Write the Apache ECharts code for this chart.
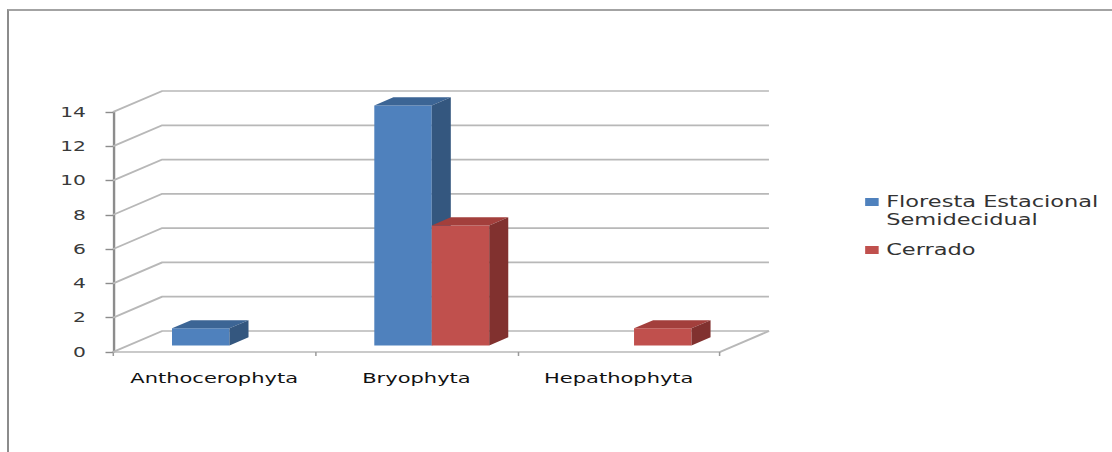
<!DOCTYPE html>
<html>
<head>
<meta charset="utf-8">
<script src="https://cdn.jsdelivr.net/npm/echarts@6/dist/echarts.min.js"></script>
<style>
  html, body { margin: 0; padding: 0; background: #fff; }
  #frame { position: relative; width: 1112px; height: 452px; overflow: hidden; background: #fff; }
  #border { position: absolute; left: 7px; top: 9px; width: 1300px; height: 600px; z-index: 2;
            pointer-events: none;
            border-left: 2px solid #8c8c8c; border-top: 2px solid #a3a3a3; }
  /* the chart is laid out narrow and widened, giving the broad lettering */
  #chart { position: absolute; left: 0; top: 0; width: 741px; height: 452px; z-index: 1;
           transform: scaleX(1.5007); transform-origin: 0 0; }
</style>
</head>
<body>
<div id="frame"><div id="chart"></div><div id="border"></div></div>
<script>
// ---- data ----
const categories = ['Anthocerophyta', 'Bryophyta', 'Hepathophyta'];
const seriesNames = ['Floresta Estacional Semidecidual', 'Cerrado'];
const floresta = [1, 14, 0];
const cerrado = [0, 7, 1];
const yTicks = [0, 2, 4, 6, 8, 10, 12, 14];

// ---- 3D look (in layout units before widening) ----
const DX = 32.7, DY = 21;       // depth of the floor / back wall
const FX = 10.2, FY = 6.5;      // how far back the bars stand
const BX = 12.7, BY = 8.2;      // bar depth
const BAR_FRAC = 0.284;         // bar width as part of a category

const palette = [
  { front: '#4F81BD', top: '#3C6595', side: '#34577F' },
  { front: '#C0504D', top: '#A33F3C', side: '#81312F' }
];

const chart = echarts.init(document.getElementById('chart'), null, { renderer: 'svg' });

function renderWall(params, api) {
  const v = api.value(1);
  const cs = params.coordSys;
  const x0 = cs.x, x1 = cs.x + cs.width;
  const y = api.coord([0, v])[1];
  const line = { stroke: '#B8B8B8', lineWidth: 1.7, fill: null };
  const children = [{
    type: 'polyline',
    shape: { points: [[x0, y], [x0 + DX, y - DY], [x1 + DX, y - DY]] },
    style: line
  }];
  if (v === 0) {
    children.push({
      type: 'line',
      shape: { x1: x1, y1: y, x2: x1 + DX, y2: y - DY },
      style: line
    });
  }
  return { type: 'group', children: children, silent: true };
}

function makeBarRenderer(idx) {
  return function (params, api) {
    const cat = api.value(0), val = api.value(1);
    if (!val) return null;
    const base = api.coord([cat, 0]);
    const tp = api.coord([cat, val]);
    const bw = api.size([1, 0])[0] * BAR_FRAC;
    const xL = base[0] + (idx === 0 ? -bw : 0) + FX;
    const xR = xL + bw;
    const yT = tp[1] - FY, yB = base[1] - FY;
    const c = palette[idx];
    return {
      type: 'group',
      children: [
        { type: 'rect', shape: { x: xL, y: yT, width: bw, height: yB - yT },
          style: { fill: c.front } },
        { type: 'polygon', shape: { points: [[xL, yT], [xL + BX, yT - BY], [xR + BX, yT - BY], [xR, yT]] },
          style: { fill: c.top } },
        { type: 'polygon', shape: { points: [[xR, yT], [xR + BX, yT - BY], [xR + BX, yB - BY], [xR, yB]] },
          style: { fill: c.side } }
      ]
    };
  };
}

const FONT = 'DejaVu Sans';

chart.setOption({
  animation: false,
  grid: { left: 75.3, right: 261.3, top: 112, bottom: 100, containLabel: false },
  xAxis: {
    type: 'category',
    data: categories,
    axisLine: { show: true, lineStyle: { color: '#B8B8B8', width: 1.7 } },
    axisTick: { show: true, length: 4, lineStyle: { color: '#9a9a9a', width: 1 } },
    axisLabel: { interval: 0, margin: 18.5, color: '#111', fontFamily: FONT, fontSize: 14 }
  },
  yAxis: {
    type: 'value',
    min: 0, max: 14, interval: 2,
    axisLine: { show: true, lineStyle: { color: '#8C8C8C', width: 1.6 } },
    axisTick: { show: true, length: 5, lineStyle: { color: '#8C8C8C', width: 1.4 } },
    splitLine: { show: false },
    axisLabel: { margin: 18, color: '#3a3a3a', fontFamily: FONT, fontSize: 13.5 }
  },
  legend: {
    orient: 'vertical',
    left: 576.5, top: 175, padding: 0,
    itemWidth: 9, itemHeight: 8, itemGap: 12,
    icon: 'rect',
    textStyle: { fontFamily: FONT, fontSize: 15, lineHeight: 18, color: '#333' },
    // long names wrap onto a second line; a blank first line keeps the
    // swatch level with the first line of text
    formatter: function (name) {
      const cut = name.lastIndexOf(' ');
      return name.length > 20 ? '\n' + name.slice(0, cut) + '\n' + name.slice(cut + 1) : name;
    },
    data: seriesNames
  },
  series: [
    {
      type: 'custom', name: 'wall', silent: true, z: 1,
      renderItem: renderWall,
      data: yTicks.map(v => [0, v]),
      encode: { x: 0, y: 1 }
    },
    {
      type: 'custom', name: seriesNames[0], z: 3,
      itemStyle: { color: palette[0].front },
      renderItem: makeBarRenderer(0),
      data: floresta.map((v, i) => [i, v]),
      encode: { x: 0, y: 1 }
    },
    {
      type: 'custom', name: seriesNames[1], z: 3,
      itemStyle: { color: palette[1].front },
      renderItem: makeBarRenderer(1),
      data: cerrado.map((v, i) => [i, v]),
      encode: { x: 0, y: 1 }
    }
  ]
});
</script>
</body>
</html>
